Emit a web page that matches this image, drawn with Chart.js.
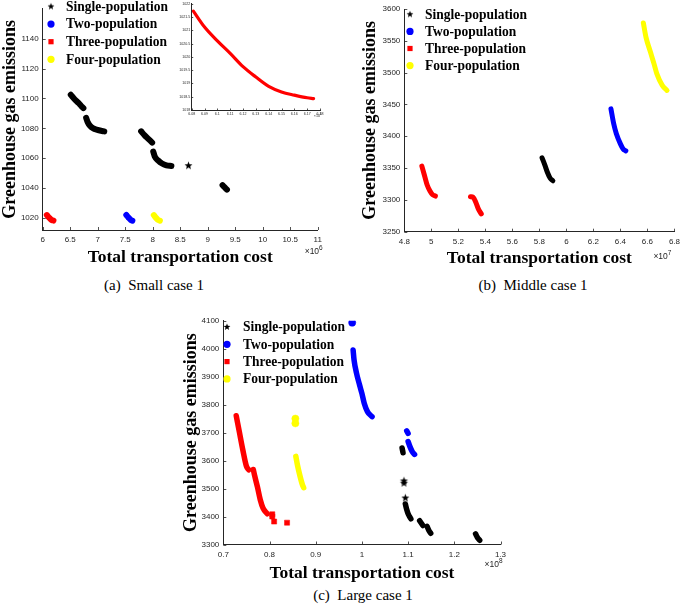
<!DOCTYPE html>
<html><head><meta charset="utf-8">
<script src="https://cdn.jsdelivr.net/npm/chart.js@4.4.0/dist/chart.umd.min.js"></script>
<style>
html,body{margin:0;padding:0;background:#fff;}
body{width:685px;height:607px;position:relative;overflow:hidden;}
canvas{position:absolute;}
.cap{position:absolute;font-family:"Liberation Serif",serif;font-size:15px;line-height:18px;white-space:pre;transform:translateX(-50%);color:#000;}
</style></head>
<body>
<canvas id="ca" width="340" height="275" style="left:0;top:0"></canvas>
<canvas id="ci" width="150" height="125" style="left:175px;top:0"></canvas>
<canvas id="cb" width="345" height="275" style="left:340px;top:0"></canvas>
<canvas id="cc" width="345" height="285" style="left:170px;top:300px"></canvas>
<div class="cap" style="left:154px;top:276px">(a)  Small case 1</div>
<div class="cap" style="left:533px;top:276px">(b)  Middle case 1</div>
<div class="cap" style="left:363px;top:586px">(c)  Large case 1</div>
<script>
// ---------- data ----------
const populations = ['Single-population','Two-population','Three-population','Four-population'];
const xTitle = 'Total transportation cost';
const yTitle = 'Greenhouse gas emissions';

// (a) Small case 1  (x in 1e6)
const aTicksX = [6,6.5,7,7.5,8,8.5,9,9.5,10,10.5,11];
const aTicksY = [1020,1040,1060,1080,1100,1120,1140];
const aSingle = [
  [[6.51,1102.5],[6.58,1099.5],[6.65,1097],[6.70,1095],[6.74,1093.5]],
  [[6.79,1087],[6.82,1084],[6.86,1081.7],[6.92,1080],[6.98,1079.2],[7.06,1078.4],[7.12,1078]],
  [[7.79,1078],[7.85,1075.5],[7.92,1073],[7.99,1070.5]],
  [[8.01,1064.5],[8.04,1061],[8.10,1058.5],[8.17,1056.5],[8.25,1055.3],[8.34,1054.8]],
  [[8.65,1055]],
  [[9.27,1042],[9.31,1040.5],[9.35,1039]]
];
const aTwo   = [[[7.52,1022],[7.56,1020.3],[7.60,1018.8],[7.63,1018.2]]];
const aThree = [[[6.075,1022],[6.11,1020.5],[6.15,1019],[6.195,1018.3]]];
const aFour  = [[[8.02,1022],[8.05,1020.5],[8.09,1019],[8.13,1018.2]]];

// inset of (a)
const iTicksX = [6.08,6.09,6.1,6.11,6.12,6.13,6.14,6.15,6.16,6.17,6.18];
const iTicksY = [1018,1018.5,1019,1019.5,1020,1020.5,1021,1021.5,1022];
const iThree = [[[6.0813,1021.72],[6.09,1021.12],[6.10,1020.6],[6.11,1020.13],[6.12,1019.63],[6.13,1019.24],[6.14,1018.89],[6.15,1018.68],[6.16,1018.56],[6.17,1018.46],[6.175,1018.43]]];

// (b) Middle case 1 (x in 1e7)
const bTicksX = [4.8,5,5.2,5.4,5.6,5.8,6,6.2,6.4,6.6,6.8];
const bTicksY = [3250,3300,3350,3400,3450,3500,3550,3600];
const bSingle = [[[5.82,3366],[5.84,3355],[5.86,3343],[5.88,3334],[5.90,3330]]];
const bTwo    = [[[6.33,3443],[6.35,3420],[6.37,3404],[6.40,3388],[6.42,3380],[6.44,3377]]];
const bThree  = [
  [[4.93,3353],[4.95,3338],[4.97,3323],[4.99,3314],[5.01,3308],[5.03,3306]],
  [[5.29,3305],[5.31,3304],[5.33,3296],[5.35,3285],[5.37,3278]]
];
const bFour   = [[[6.57,3578],[6.59,3555],[6.62,3534],[6.65,3513],[6.67,3498],[6.71,3480],[6.745,3472]]];

// (c) Large case 1 (x in 1e8)
const cTicksX = [0.7,0.8,0.9,1,1.1,1.2,1.3];
const cTicksY = [3300,3400,3500,3600,3700,3800,3900,4000,4100];
const cSingle = [
  [[1.087,3645],[1.089,3628]],
  [[1.091,3527]],[[1.091,3519]],[[1.094,3466]],
  [[1.094,3445],[1.097,3425],[1.100,3410],[1.106,3392]],
  [[1.125,3385],[1.132,3368]],
  [[1.141,3365],[1.145,3350],[1.149,3340]],
  [[1.246,3338],[1.250,3325],[1.255,3315]]
];
const cTwo = [
  [[0.979,4093]],
  [[0.981,3995],[0.983,3960],[0.988,3915],[0.995,3870],[1.000,3840],[1.005,3805],[1.012,3775],[1.022,3757]],
  [[1.097,3706],[1.100,3697]],
  [[1.100,3668],[1.104,3650],[1.109,3632],[1.114,3622]]
];
const cThree = [
  [[0.728,3760],[0.735,3700],[0.742,3640],[0.750,3580],[0.755,3567]],
  [[0.765,3568],[0.768,3545],[0.774,3505],[0.780,3460],[0.786,3430],[0.795,3410]],
  [[0.806,3408]],[[0.806,3400]],[[0.810,3382]],[[0.838,3378]]
];
const cFour = [
  [[0.856,3750]],[[0.856,3733]],
  [[0.857,3615],[0.861,3580],[0.866,3545],[0.871,3515],[0.874,3503]]
];

// ---------- styles ----------
const colors = ['#000000','#0000ff','#ff0000','#ffff00'];
const AXIS = '#262626';

function makeStar(r){
  const s = Math.ceil(r*2)+2;
  const c = document.createElement('canvas'); c.width = s; c.height = s;
  const g = c.getContext('2d'); g.fillStyle = '#000'; g.beginPath();
  for (let i=0;i<10;i++){ const a=-Math.PI/2+i*Math.PI/5; const rr=(i%2)?r*0.42:r; g.lineTo(s/2+rr*Math.cos(a), s/2+rr*Math.sin(a)); }
  g.closePath(); g.fill(); return c;
}
const starImg = makeStar(4.2);
const starLegend = makeStar(3.6);
const styles = [starImg,'circle','rect','circle'];

function clusterSets(clusters, idx, width){
  return clusters.map(c => ({
    label: populations[idx],
    data: c.map(p => ({x:p[0], y:p[1]})),
    showLine: c.length > 1,
    cubicInterpolationMode: 'monotone',
    borderColor: colors[idx], backgroundColor: colors[idx],
    borderWidth: width, borderCapStyle:'round', borderJoinStyle:'round',
    pointRadius: c.length > 1 ? 0 : 3.6,
    pointStyle: styles[idx], pointBorderWidth: 0.5,
    pointBorderColor: colors[idx], pointBackgroundColor: colors[idx]
  }));
}

function legendPlugin(conf){
  return { id:'figLegend', afterDraw(chart){
    const ctx = chart.ctx; ctx.save();
    populations.forEach((name,i) => {
      const y = conf.y0 + i*conf.dy, x = conf.mx;
      ctx.fillStyle = colors[i];
      if (i===0) ctx.drawImage(starLegend, x-starLegend.width/2, y-starLegend.height/2);
      else if (i===2) ctx.fillRect(x-2.6, y-2.6, 5.2, 5.2);
      else { ctx.beginPath(); ctx.arc(x, y, 3.6, 0, Math.PI*2); ctx.fill(); }
      ctx.save();
      ctx.translate(conf.tx, y+0.5); ctx.scale(0.9, 1);
      ctx.fillStyle = '#000'; ctx.font = 'bold 15px "Liberation Serif"';
      ctx.textAlign = 'left'; ctx.textBaseline = 'middle';
      ctx.fillText(name, 0, 0);
      ctx.restore();
    });
    ctx.restore();
  }};
}
function expPlugin(conf){
  return { id:'figExp', afterDraw(chart){
    const ctx = chart.ctx, a = chart.chartArea; ctx.save();
    ctx.fillStyle = AXIS; ctx.textBaseline = 'alphabetic'; ctx.textAlign = 'left';
    ctx.font = conf.fs + 'px "Liberation Sans"';
    const base = '\u00d710', bw = ctx.measureText(base).width;
    ctx.font = conf.ss + 'px "Liberation Sans"';
    const sw = ctx.measureText(conf.exp).width;
    const end = a.right + conf.dx, by = a.bottom + conf.dy;
    ctx.fillText(conf.exp, end - sw, by - conf.fs*0.45);
    ctx.font = conf.fs + 'px "Liberation Sans"';
    ctx.fillText(base, end - sw - bw, by);
    ctx.restore();
  }};
}
function tickPlugin(len){
  return { id:'inTicks', afterDraw(chart){
    const ctx = chart.ctx, a = chart.chartArea, sx = chart.scales.x, sy = chart.scales.y;
    ctx.save(); ctx.strokeStyle = AXIS; ctx.lineWidth = 0.8; ctx.beginPath();
    sx.ticks.forEach(t => { const p = Math.round(sx.getPixelForValue(t.value))+0.5; ctx.moveTo(p, a.bottom); ctx.lineTo(p, a.bottom-len); });
    sy.ticks.forEach(t => { const p = Math.round(sy.getPixelForValue(t.value))+0.5; ctx.moveTo(a.left, p); ctx.lineTo(a.left+len, p); });
    ctx.stroke(); ctx.restore();
  }};
}

function makeChart(id, c){
  const titleFontX = {family:'Liberation Serif', weight:'bold', size:17.5, lineHeight:1};
  const titleFontY = {family:'Liberation Serif', weight:'bold', size:18, lineHeight:1};
  const plugins = [tickPlugin(c.tickLen), expPlugin(c.exp)];
  if (c.legend) plugins.push(legendPlugin(c.legend));
  return new Chart(document.getElementById(id), {
    type:'scatter',
    data:{datasets:c.datasets},
    options:{
      responsive:false, animation:false, events:[], devicePixelRatio:1,
      layout:{padding:{left:0, top:c.padT, right:c.padR, bottom:0}},
      plugins:{legend:{display:false}, tooltip:{enabled:false}, title:{display:false}},
      scales:{
        x:{type:'linear', min:c.xMin, max:c.xMax,
          afterBuildTicks:s=>{ s.ticks = c.xTicks.map(v=>({value:v})); },
          afterFit:s=>{ s.height = c.xH; },
          grid:{display:false, drawTicks:false},
          border:{display:true, color:AXIS, width:1},
          ticks:{autoSkip:false, maxRotation:0, minRotation:0, padding:c.xPad, color:AXIS,
                 font:{family:'Liberation Sans', size:c.tf}, callback:v=>String(v)},
          title:{display:c.titles, text:xTitle, color:'#000', font:titleFontX, padding:{top:0, bottom:c.xTitlePad}}
        },
        y:{type:'linear', min:c.yMin, max:c.yMax,
          afterBuildTicks:s=>{ s.ticks = c.yTicks.map(v=>({value:v})); },
          afterFit:s=>{ s.width = c.yW; },
          grid:{display:false, drawTicks:false},
          border:{display:true, color:AXIS, width:1},
          ticks:{autoSkip:false, padding:c.yPad, color:AXIS,
                 font:{family:'Liberation Sans', size:c.tf}, callback:v=>String(v)},
          title:{display:c.titles, text:yTitle, color:'#000', font:titleFontY, padding:{top:c.yTitlePad, bottom:0}}
        }
      }
    },
    plugins
  });
}

// (a)
makeChart('ca', {
  datasets:[...clusterSets(aThree,2,6),...clusterSets(aTwo,1,6),...clusterSets(aFour,3,6),...clusterSets(aSingle,0,6)],
  xMin:6, xMax:11, yMin:1012, yMax:1160, xTicks:aTicksX, yTicks:aTicksY,
  padT:0, padR:22.3, xH:45, yW:42.7, xPad:5, yPad:4, tf:8, titles:true, xTitlePad:9.25, yTitlePad:1,
  tickLen:3, exp:{exp:'6', fs:8.5, ss:6.5, dx:5, dy:24},
  legend:{mx:51, tx:66, y0:6.5, dy:17.6}
});
// inset
makeChart('ci', {
  datasets:[...clusterSets(iThree,2,3.2)],
  xMin:6.08, xMax:6.18, yMin:1018, yMax:1022, xTicks:iTicksX, yTicks:iTicksY,
  padT:2.3, padR:3.3, xH:15, yW:16.7, xPad:1.5, yPad:1.5, tf:3.6, titles:false, xTitlePad:0, yTitlePad:0,
  tickLen:1.5, exp:{exp:'6', fs:3.6, ss:2.8, dx:1.5, dy:7}
});
// (b)
makeChart('cb', {
  datasets:[...clusterSets(bThree,2,5),...clusterSets(bSingle,0,5),...clusterSets(bTwo,1,5),...clusterSets(bFour,3,5)],
  xMin:4.8, xMax:6.8, yMin:3250, yMax:3600, xTicks:bTicksX, yTicks:bTicksY,
  padT:9, padR:6.7, xH:43.3, yW:64.3, xPad:5, yPad:4, tf:8, titles:true, xTitlePad:8.25, yTitlePad:21,
  tickLen:3, exp:{exp:'7', fs:8.5, ss:6.5, dx:-3, dy:27},
  legend:{mx:70, tx:85, y0:14.3, dy:17.1}
});
// (c)
makeChart('cc', {
  datasets:[...clusterSets(cThree,2,5.5),...clusterSets(cFour,3,5.5),...clusterSets(cTwo,1,5.5),...clusterSets(cSingle,0,5.5)],
  xMin:0.7, xMax:1.3, yMin:3300, yMax:4100, xTicks:cTicksX, yTicks:cTicksY,
  padT:20.7, padR:14.5, xH:40.5, yW:53.3, xPad:5, yPad:4, tf:8, titles:true, xTitlePad:3.25, yTitlePad:12.7,
  tickLen:3, exp:{exp:'8', fs:8.5, ss:6.5, dx:2, dy:22},
  legend:{mx:57, tx:73, y0:27, dy:17.3}
});
</script>
</body></html>
